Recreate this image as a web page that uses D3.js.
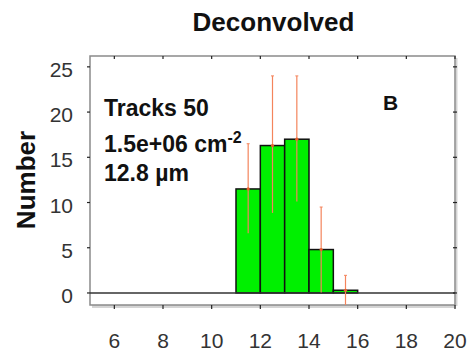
<!DOCTYPE html>
<html>
<head>
<meta charset="utf-8">
<script src="https://cdn.jsdelivr.net/npm/d3@7"></script>
<style>
  body { margin: 0; background: #fff; }
  svg { display: block; font-family: "Liberation Sans", Arial, sans-serif; }
</style>
</head>
<body>
<svg id="chart" width="472" height="358"></svg>
<script>
// histogram bins (left edge, width 1)
var binStart = [11, 12, 13, 14, 15];
var counts = [11.5, 16.3, 17.0, 4.8, 0.3];
// error bars at bin centres
var errLow = [6.6, 8.85, 10.1, 0.05, -1.35];
var errHigh = [16.5, 24.0, 24.0, 9.5, 1.95];

var xTicks = [6, 8, 10, 12, 14, 16, 18, 20];
var yTicks = [0, 5, 10, 15, 20, 25];

var svg = d3.select("#chart");

// plot frame (note: "top" is a reserved window global, so use other names)
var pLeft = 90, pRight = 455, pTop = 56, pBottom = 305;

var x = d3.scaleLinear().domain([5, 20]).range([pLeft, pRight]);
var y = d3.scaleLinear().domain([-1.33, 26.2]).range([pBottom, pTop]);

// frame shadow
svg.append("line")
  .attr("x1", pLeft + 2).attr("x2", pRight + 1)
  .attr("y1", pBottom + 1.5).attr("y2", pBottom + 1.5)
  .attr("stroke", "#d4d4d4").attr("stroke-width", 3);
svg.append("line")
  .attr("x1", pRight + 1.5).attr("x2", pRight + 1.5)
  .attr("y1", pTop + 2).attr("y2", pBottom + 1)
  .attr("stroke", "#d4d4d4").attr("stroke-width", 2);

// frame
svg.append("rect")
  .attr("x", pLeft).attr("y", pTop)
  .attr("width", pRight - pLeft).attr("height", pBottom - pTop)
  .attr("fill", "none")
  .attr("stroke", "#8a8a8a").attr("stroke-width", 1.5);

// bars
svg.append("g").selectAll("rect")
  .data(binStart)
  .enter().append("rect")
  .attr("x", function(d) { return x(d); })
  .attr("y", function(d, i) { return y(counts[i]); })
  .attr("width", function(d) { return x(d + 1) - x(d); })
  .attr("height", function(d, i) { return y(0) - y(counts[i]); })
  .attr("fill", "#00f000")
  .attr("stroke", "#111")
  .attr("stroke-width", 1.5);

// zero line
svg.append("line")
  .attr("x1", pLeft).attr("x2", pRight)
  .attr("y1", y(0)).attr("y2", y(0))
  .attr("stroke", "#333").attr("stroke-width", 1.5);

// error bars
function yClip(v) { return Math.min(Math.max(y(v), pTop), pBottom); }

var err = svg.append("g").selectAll("g")
  .data(binStart)
  .enter().append("g");

err.append("line")
  .attr("x1", function(d) { return x(d + 0.5); })
  .attr("x2", function(d) { return x(d + 0.5); })
  .attr("y1", function(d, i) { return yClip(errLow[i]); })
  .attr("y2", function(d, i) { return yClip(errHigh[i]); })
  .attr("stroke", "#f4845c").attr("stroke-width", 1.2);

err.append("line")
  .attr("x1", function(d) { return x(d + 0.5) - 1.5; })
  .attr("x2", function(d) { return x(d + 0.5) + 1.5; })
  .attr("y1", function(d, i) { return y(errHigh[i]); })
  .attr("y2", function(d, i) { return y(errHigh[i]); })
  .attr("stroke", "#f4845c").attr("stroke-width", 1);

err.append("circle")
  .attr("cx", function(d) { return x(d + 0.5); })
  .attr("cy", function(d, i) { return y(counts[i]); })
  .attr("r", 1.6)
  .attr("fill", "#e8602c");

// ticks
var tickCol = "#222";
svg.append("g").selectAll("line")
  .data(xTicks).enter().append("line")
  .attr("x1", function(d) { return x(d); }).attr("x2", function(d) { return x(d); })
  .attr("y1", pBottom).attr("y2", pBottom + 4)
  .attr("stroke", tickCol).attr("stroke-width", 1.2);
svg.append("g").selectAll("line")
  .data(xTicks).enter().append("line")
  .attr("x1", function(d) { return x(d); }).attr("x2", function(d) { return x(d); })
  .attr("y1", pTop).attr("y2", pTop + 3)
  .attr("stroke", tickCol).attr("stroke-width", 1.2);
svg.append("g").selectAll("line")
  .data(yTicks).enter().append("line")
  .attr("x1", pLeft - 3).attr("x2", pLeft)
  .attr("y1", function(d) { return y(d); }).attr("y2", function(d) { return y(d); })
  .attr("stroke", tickCol).attr("stroke-width", 1.2);
svg.append("g").selectAll("line")
  .data(yTicks).enter().append("line")
  .attr("x1", pRight - 2).attr("x2", pRight + 2)
  .attr("y1", function(d) { return y(d); }).attr("y2", function(d) { return y(d); })
  .attr("stroke", tickCol).attr("stroke-width", 1.2);

// tick labels
svg.append("g").selectAll("text")
  .data(xTicks).enter().append("text")
  .attr("x", function(d) { return x(d); })
  .attr("y", 348)
  .attr("text-anchor", "middle")
  .attr("font-size", 21)
  .attr("fill", "#333")
  .text(function(d) { return d; });
svg.append("g").selectAll("text")
  .data(yTicks).enter().append("text")
  .attr("x", 73)
  .attr("y", function(d) { return y(d) + 10; })
  .attr("text-anchor", "end")
  .attr("font-size", 21)
  .attr("fill", "#333")
  .text(function(d) { return d; });

// title and axis label
svg.append("text")
  .attr("x", (pLeft + pRight) / 2 + 1).attr("y", 31)
  .attr("text-anchor", "middle")
  .attr("font-size", 26).attr("font-weight", "bold")
  .attr("fill", "#111")
  .text("Deconvolved");

svg.append("text")
  .attr("transform", "translate(35,180) rotate(-90)")
  .attr("text-anchor", "middle")
  .attr("font-size", 26).attr("font-weight", "bold")
  .attr("fill", "#111")
  .text("Number");

// annotations
var ann = svg.append("g")
  .attr("font-size", 23).attr("font-weight", "bold").attr("fill", "#111");
ann.append("text").attr("x", 104).attr("y", 116).text("Tracks 50");
var dens = ann.append("text").attr("x", 104).attr("y", 152);
dens.append("tspan").text("1.5e+06 cm");
dens.append("tspan").attr("dy", -9).attr("font-size", 16).text("-2");
ann.append("text").attr("x", 104).attr("y", 181).text("12.8 \u00b5m");
ann.append("text").attr("x", 383).attr("y", 110).attr("font-size", 21).text("B");
</script>
</body>
</html>
